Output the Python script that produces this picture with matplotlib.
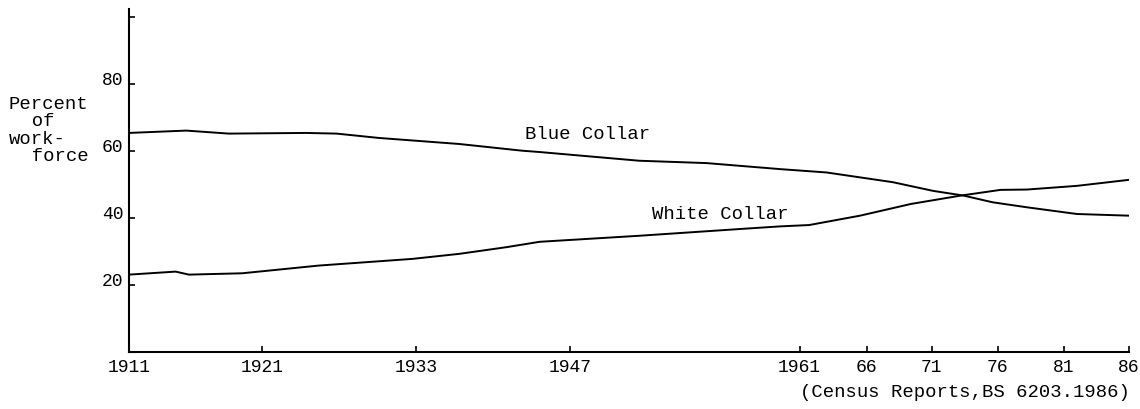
import numpy as np
import matplotlib
matplotlib.use('Agg')
import matplotlib.pyplot as plt

# x axis: census years and the labels printed under them
tick_years = [1911, 1921, 1933, 1947, 1961, 1966, 1971, 1976, 1981, 1986]
tick_labels = ['1911', '1921', '1933', '1947', '1961', '66', '71', '76', '81', '86']
# the hand-drawn axis is not evenly spaced: where each tick sits along it
tick_spots = [0, 133, 287, 441, 670, 737, 802, 868, 934, 999]

# percent of workforce
blue_years = [1911, 1915.3, 1918.5, 1924.4, 1926.8, 1930.1, 1936.9, 1942.6, 1944.2, 1951.2,
              1955.3, 1959.8, 1963.0, 1968.0, 1971.1, 1973.4, 1975.6, 1978.2, 1982.0, 1986]
blue_collar = [65.4, 66.1, 65.2, 65.4, 65.2, 63.9, 62.1, 60.1, 59.7, 57.1,
               56.4, 54.6, 53.6, 50.7, 48.1, 46.7, 44.7, 43.2, 41.2, 40.7]

white_years = [1911, 1914.5, 1915.5, 1919.5, 1925.4, 1932.7, 1936.9, 1941.2, 1944.2, 1951.2,
               1957.3, 1959.8, 1961.7, 1965.5, 1969.4, 1973.2, 1976.2, 1978.2, 1982.0, 1986]
white_collar = [23.1, 24.0, 23.1, 23.5, 25.8, 27.8, 29.3, 31.3, 32.9, 34.7,
                36.7, 37.5, 37.9, 40.7, 44.2, 46.7, 48.4, 48.5, 49.6, 51.4]

y_ticks = [20, 40, 60, 80, 100]
y_labels = ['20', '40', '60', '80', '']

mono = 'Liberation Mono'
fs = 13.6
tick_fs = 13


def fwd(x):
    return np.interp(x, tick_years, tick_spots)


def inv(p):
    return np.interp(p, tick_spots, tick_years)


fig = plt.figure(figsize=(11.4, 4.1), dpi=100)
ax = fig.add_axes([129 / 1140, 57 / 410, 1000 / 1140, 343 / 410])
ax.set_xscale('function', functions=(fwd, inv))

ax.plot(blue_years, blue_collar, color='black', lw=1.4)
ax.plot(white_years, white_collar, color='black', lw=1.4)

ax.set_xlim(1911, 1986)
ax.set_ylim(0, 102.4)

ax.set_xticks(tick_years)
ax.set_xticklabels(tick_labels, family=mono, fontsize=tick_fs)
ax.set_yticks(y_ticks)
ax.set_yticklabels(y_labels, family=mono, fontsize=tick_fs)
for lab in ax.get_yticklabels():
    lab.set_verticalalignment('baseline')
ax.xaxis.set_minor_locator(matplotlib.ticker.NullLocator())

ax.tick_params(axis='both', direction='in', length=4, width=1.2, color='black')
ax.tick_params(axis='x', pad=4)
ax.tick_params(axis='y', pad=4)

for side in ['top', 'right']:
    ax.spines[side].set_visible(False)
for side in ['left', 'bottom']:
    ax.spines[side].set_linewidth(1.5)
ax.patch.set_alpha(0)

ax.text(1942.9, 65.1, 'Blue Collar', family=mono, fontsize=fs, ha='left', va='center')
ax.text(1952.0, 41.2, 'White Collar', family=mono, fontsize=fs, ha='left', va='center')

fig.text(9 / 1140, 1 - 96 / 410, 'Percent\n  of\nwork-\n  force', family=mono,
         fontsize=fs, ha='left', va='top', linespacing=1.02)
fig.text(1130 / 1140, 1 - 393 / 410, '(Census Reports,BS 6203.1986)', family=mono,
         fontsize=fs, ha='right', va='center')

fig.savefig('out.png', dpi=100)
